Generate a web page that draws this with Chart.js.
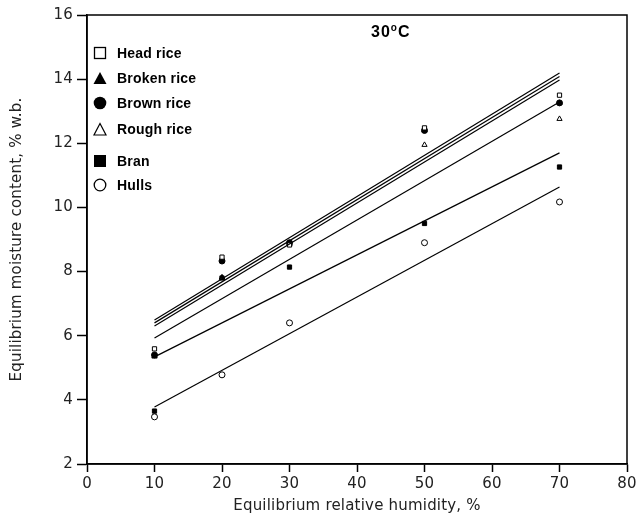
<!DOCTYPE html>
<html><head><meta charset="utf-8">
<script src="https://cdn.jsdelivr.net/npm/chart.js@4.4.1/dist/chart.umd.min.js"></script>
<style>
html,body{margin:0;padding:0;background:#fff;}
#wrap{position:relative;width:637px;height:519px;}
canvas{position:absolute;left:0;top:0;}
#title{position:absolute;left:371px;top:23px;font-family:"Liberation Sans",Arial,sans-serif;font-weight:bold;font-size:16px;line-height:18px;letter-spacing:1px;color:#000;}
#title sup{font-size:10px;vertical-align:6px;line-height:0;}
.lg{position:absolute;left:117px;font-family:"Liberation Sans",Arial,sans-serif;font-weight:bold;font-size:14px;line-height:14px;letter-spacing:0.2px;color:#000;}
</style></head><body>
<div id="wrap"><canvas id="c" width="637" height="519"></canvas>
<div id="title">30<sup>o</sup>C</div>
<div id="legend"></div>
</div>
<script>
// Data
const rh = [10, 20, 30, 50, 70];
const headRice   = [5.59, 8.45, 8.83, 12.48, 13.50];
const brokenRice = [5.37, 7.82, 8.88, 12.40, 13.26];
const brownRice  = [5.40, 8.33, 8.90, 12.40, 13.26];
const roughRice  = [5.35, 7.80, 8.85, 11.95, 12.76];
const bran       = [3.65, 7.80, 8.14, 9.50, 11.26];
const hulls      = [3.47, 4.78, 6.40, 8.90, 10.17];
// fitted lines (endpoints at 10 and 70 % RH)
const fitX = [10, 70];
const fitHead   = [6.49, 14.19];
const fitBrown  = [6.40, 14.08];
const fitBroken = [6.30, 13.97];
const fitRough  = [5.93, 13.29];
const fitBran   = [5.34, 11.70];
const fitHulls  = [3.78, 10.64];
const xTicks = [0,10,20,30,40,50,60,70,80];
const yTicks = [2,4,6,8,10,12,14,16];
const seriesNames = ["Head rice","Broken rice","Brown rice","Rough rice","Bran","Hulls"];

const pts = (ys) => rh.map((x,i)=>({x, y: ys[i]}));
const fit = (ys) => fitX.map((x,i)=>({x, y: ys[i]}));

const styles = [
  {ps:'rect', fill:'#fff', r:3},
  {ps:'triangle', fill:'#000', r:3},
  {ps:'circle', fill:'#000', r:3},
  {ps:'triangle', fill:'#fff', r:3},
  {ps:'rect', fill:'#000', r:3},
  {ps:'circle', fill:'#fff', r:3}
];
const seriesData = [headRice, brokenRice, brownRice, roughRice, bran, hulls];
const fits = [fitHead, fitBroken, fitBrown, fitRough, fitBran, fitHulls];

const datasets = [];
fits.forEach(f => datasets.push({type:'line', data: fit(f), borderColor:'#000', borderWidth:1.2, pointRadius:0, fill:false, showLine:true}));
seriesData.forEach((d,i) => datasets.push({type:'scatter', label: seriesNames[i], data: pts(d),
  pointStyle: styles[i].ps, pointRadius: styles[i].r, pointBackgroundColor: styles[i].fill,
  pointBorderColor:'#000', pointBorderWidth:1}));

const SPACING = '0.2px';
const frame = {id:'frame',
  beforeLayout(chart){ chart.ctx.letterSpacing = SPACING; },
  beforeDraw(chart){ chart.ctx.letterSpacing = SPACING; },
  afterDraw(chart){
    const a = chart.chartArea, ctx = chart.ctx;
    ctx.save(); ctx.strokeStyle='#000'; ctx.lineWidth=1.5;
    ctx.strokeRect(a.left, a.top, a.right-a.left, a.bottom-a.top);
    ctx.restore();
  }};

const font = {family:'"DejaVu Sans", sans-serif', size:15};
new Chart(document.getElementById('c'), {
  data: {datasets},
  options: {
    responsive:false, animation:false, devicePixelRatio:1,
    layout:{padding:{left:0, top:15, right:10, bottom:0}},
    plugins:{legend:{display:false}, tooltip:{enabled:false}},
    scales:{
      x:{type:'linear', min:0, max:80,
        afterBuildTicks(ax){ ax.ticks = xTicks.map(v=>({value:v})); },
        afterFit(ax){ ax.height = 55; ax.paddingRight = 0; ax.paddingLeft = 0; },
        grid:{drawOnChartArea:false, color:'#000', tickLength:8, tickWidth:1.5},
        border:{color:'#000', width:1.5},
        ticks:{color:'#222', font, padding:3, maxRotation:0},
        title:{display:true, text:'Equilibrium relative humidity, %', color:'#222', font, padding:{top:0, bottom:4}}
      },
      y:{type:'linear', min:2, max:16,
        afterBuildTicks(ax){ ax.ticks = yTicks.map(v=>({value:v})); },
        afterFit(ax){ ax.width = 87; },
        grid:{drawOnChartArea:false, color:'#000', tickLength:10, tickWidth:1.5},
        border:{color:'#000', width:1.5},
        ticks:{color:'#222', font, padding:4},
        title:{display:true, text:'Equilibrium moisture content, % w.b.', color:'#222', font, padding:{top:8, bottom:0}}
      }
    }
  },
  plugins:[frame]
});

// HTML legend
const legY = [53, 78, 103, 129, 161, 185];
const legSyms = [
  '<svg width="14" height="14"><rect x="1.5" y="1.5" width="11" height="11" fill="#fff" stroke="#000" stroke-width="1.3"/></svg>',
  '<svg width="14" height="14"><polygon points="7,1 13.5,13 0.5,13" fill="#000"/></svg>',
  '<svg width="14" height="14"><circle cx="7" cy="7" r="6.3" fill="#000"/></svg>',
  '<svg width="14" height="14"><polygon points="7,1.5 13,13 1,13" fill="#fff" stroke="#000" stroke-width="1.2"/></svg>',
  '<svg width="14" height="14"><rect x="1" y="1" width="12" height="12" fill="#000"/></svg>',
  '<svg width="14" height="14"><circle cx="7" cy="7" r="5.8" fill="#fff" stroke="#000" stroke-width="1.3"/></svg>'
];
const lg = document.getElementById('legend');
seriesNames.forEach((n,i)=>{
  const s = document.createElement('div');
  s.style.cssText = 'position:absolute;left:93px;top:'+(legY[i]-7)+'px;width:14px;height:14px;';
  s.innerHTML = legSyms[i];
  lg.appendChild(s);
  const t = document.createElement('div');
  t.className='lg'; t.style.top=(legY[i]-7)+'px'; t.textContent=n;
  lg.appendChild(t);
});
</script>
</body></html>
